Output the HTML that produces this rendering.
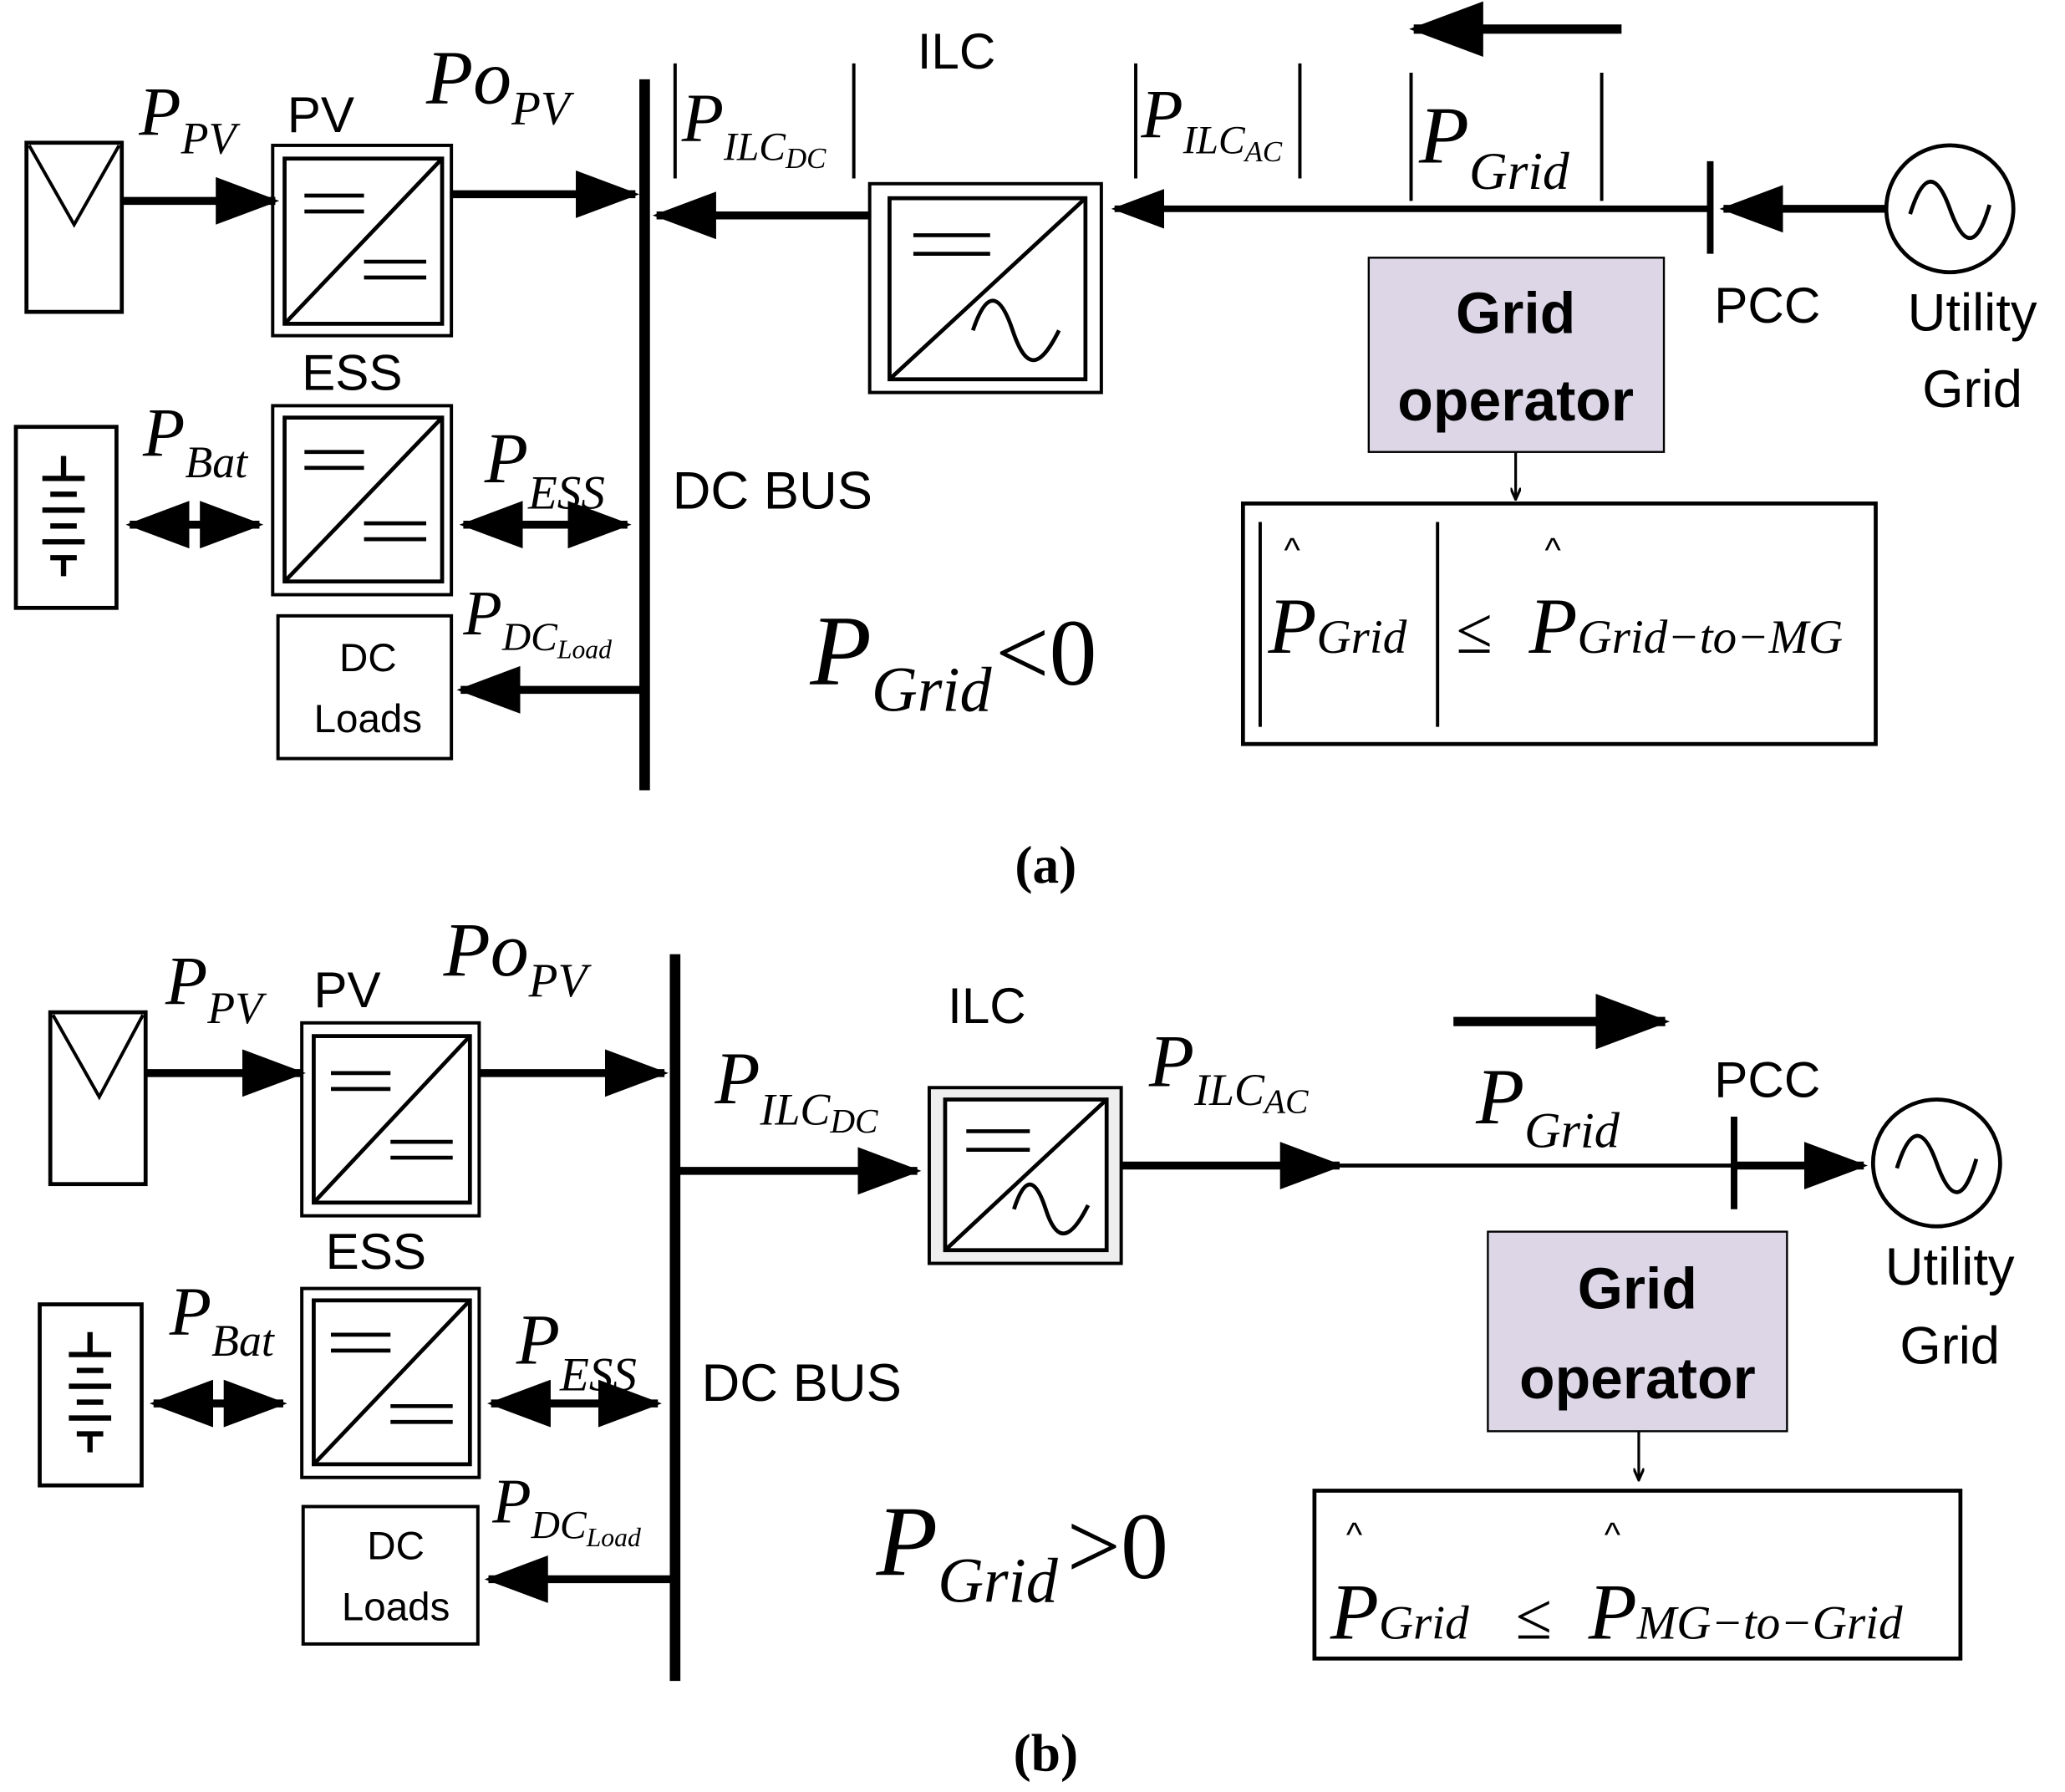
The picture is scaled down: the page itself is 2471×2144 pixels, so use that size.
<!DOCTYPE html>
<html><head><meta charset="utf-8"><style>html,body{margin:0;padding:0;background:#fff}svg{display:block}
.s{font-family:"Liberation Sans",sans-serif}.m{font-family:"Liberation Serif",serif;font-style:italic}</style></head>
<body>
<svg width="2471" height="2144" viewBox="0 0 1560 1356" preserveAspectRatio="none" xmlns="http://www.w3.org/2000/svg">
<defs>
<marker id="ah" markerWidth="8" markerHeight="6" refX="7.5" refY="3" orient="auto" markerUnits="strokeWidth"><path d="M0,0 L8,3 L0,6 Z" fill="#000"/></marker>
<marker id="as" markerWidth="8" markerHeight="6" refX="0.5" refY="3" orient="auto" markerUnits="strokeWidth"><path d="M8,0 L0,3 L8,6 Z" fill="#000"/></marker>
<marker id="sm" markerWidth="10" markerHeight="8" refX="9" refY="4" orient="auto" markerUnits="userSpaceOnUse"><path d="M0,0 L9,4 L0,8" fill="none" stroke="#000" stroke-width="2"/></marker>
</defs>
<g stroke="#000" fill="none">
<!-- ===== (a) ===== -->
<rect x="20" y="108" width="72" height="128" stroke-width="3"/>
<path d="M22,110 L56,170 L90,110" stroke-width="2.5"/>
<line x1="92" y1="152" x2="208" y2="152" stroke-width="6" marker-end="url(#ah)"/>
<rect x="206" y="110" width="135" height="144" stroke-width="2.5"/><rect x="215" y="120" width="119" height="125" stroke-width="3"/>
<path d="M215,245 L334,120 M230,148H275 M230,160H275 M275,198H322 M275,210H322" stroke-width="3"/>
<line x1="341" y1="147" x2="480" y2="147" stroke-width="6" marker-end="url(#ah)"/>
<line x1="487" y1="60" x2="487" y2="598" stroke-width="8"/>
<rect x="206" y="307" width="135" height="143" stroke-width="2.5"/><rect x="215" y="316" width="119" height="124" stroke-width="3"/>
<path d="M215,440 L334,316 M230,342H275 M230,354H275 M275,396H322 M275,408H322" stroke-width="3"/>
<rect x="12" y="323" width="76" height="137" stroke-width="3"/>
<path d="M48,345V362 M32,362H64 M38,374H58 M32,386H64 M38,398H58 M32,410H64 M38,422H58 M48,422V436" stroke-width="4"/>
<line x1="98" y1="397" x2="196" y2="397" stroke-width="6" marker-end="url(#ah)" marker-start="url(#as)"/>
<line x1="350" y1="397" x2="474" y2="397" stroke-width="6" marker-end="url(#ah)" marker-start="url(#as)"/>
<rect x="210" y="466" width="131" height="108" stroke-width="2.5"/>
<line x1="487" y1="522" x2="348" y2="522" stroke-width="6" marker-end="url(#ah)"/>
<line x1="657" y1="163" x2="496" y2="163" stroke-width="6" marker-end="url(#ah)"/>
<rect x="657" y="139" width="175" height="158" stroke-width="2.5"/><rect x="672" y="150" width="148" height="137" stroke-width="3"/>
<path d="M672,287 L820,150 M690,178H748 M690,192H748 M735,250 C745,220 755,220 765,250 S785,280 800,250" stroke-width="3"/>
<path d="M510,48V135 M645,48V135 M858,48V135 M982,48V135 M1066,55V152 M1210,55V152" stroke-width="2.5"/>
<line x1="1292" y1="158" x2="842" y2="158" stroke-width="5" marker-end="url(#ah)"/>
<line x1="1225" y1="22" x2="1068" y2="22" stroke-width="7" marker-end="url(#ah)"/>
<line x1="1292" y1="122" x2="1292" y2="192" stroke-width="5"/>
<line x1="1425" y1="158" x2="1302" y2="158" stroke-width="6" marker-end="url(#ah)"/>
<circle cx="1473" cy="158" r="48" stroke-width="3"/>
<path d="M1443,162 C1453,130 1463,130 1473,158 S1493,190 1503,155" stroke-width="3"/>
<rect x="1034" y="195" width="223" height="147" fill="#dcd6e6" stroke-width="1.5"/>
<line x1="1145" y1="342" x2="1145" y2="378" stroke-width="2" marker-end="url(#sm)"/>
<rect x="939" y="381" width="478" height="182" stroke-width="3"/>
<path d="M952,395V550 M1086,395V550" stroke-width="2.5"/>
<!-- ===== (b) ===== -->
<rect x="38" y="766" width="72" height="130" stroke-width="3"/>
<path d="M40,768 L75,830 L108,768" stroke-width="2.5"/>
<line x1="110" y1="812" x2="228" y2="812" stroke-width="6" marker-end="url(#ah)"/>
<rect x="228" y="774" width="134" height="146" stroke-width="2.5"/><rect x="237" y="784" width="118" height="126" stroke-width="3"/>
<path d="M237,910 L355,784 M250,812H295 M250,824H295 M295,864H342 M295,876H342" stroke-width="3"/>
<line x1="362" y1="812" x2="502" y2="812" stroke-width="6" marker-end="url(#ah)"/>
<line x1="510" y1="722" x2="510" y2="1272" stroke-width="8"/>
<rect x="228" y="975" width="134" height="143" stroke-width="2.5"/><rect x="237" y="984" width="118" height="124" stroke-width="3"/>
<path d="M237,1108 L355,984 M250,1010H295 M250,1022H295 M295,1064H342 M295,1076H342" stroke-width="3"/>
<rect x="30" y="987" width="77" height="137" stroke-width="3"/>
<path d="M68,1008V1025 M52,1025H84 M58,1037H78 M52,1049H84 M58,1061H78 M52,1073H84 M58,1085H78 M68,1085V1099" stroke-width="4"/>
<line x1="116" y1="1062" x2="214" y2="1062" stroke-width="6" marker-end="url(#ah)" marker-start="url(#as)"/>
<line x1="371" y1="1062" x2="497" y2="1062" stroke-width="6" marker-end="url(#ah)" marker-start="url(#as)"/>
<rect x="229" y="1140" width="132" height="104" stroke-width="2.5"/>
<line x1="510" y1="1195" x2="369" y2="1195" stroke-width="6" marker-end="url(#ah)"/>
<line x1="510" y1="886" x2="693" y2="886" stroke-width="6" marker-end="url(#ah)"/>
<rect x="702" y="823" width="145" height="133" stroke-width="2.5" fill="#eee"/><rect x="714" y="832" width="122" height="114" stroke-width="3" fill="#fff"/>
<path d="M714,946 L836,832 M730,856H778 M730,870H778 M766,915 C774,890 782,890 790,915 S808,940 822,912" stroke-width="3"/>
<line x1="847" y1="882" x2="1012" y2="882" stroke-width="6" marker-end="url(#ah)"/>
<line x1="1012" y1="882" x2="1310" y2="882" stroke-width="3"/>
<line x1="1310" y1="882" x2="1408" y2="882" stroke-width="6" marker-end="url(#ah)"/>
<line x1="1098" y1="773" x2="1258" y2="773" stroke-width="7" marker-end="url(#ah)"/>
<line x1="1310" y1="845" x2="1310" y2="915" stroke-width="5"/>
<circle cx="1463" cy="880" r="48" stroke-width="3"/>
<path d="M1433,884 C1443,852 1453,852 1463,880 S1483,912 1493,877" stroke-width="3"/>
<rect x="1124" y="932" width="226" height="151" fill="#dcd6e6" stroke-width="1.5"/>
<line x1="1238" y1="1083" x2="1238" y2="1120" stroke-width="2" marker-end="url(#sm)"/>
<rect x="993" y="1128" width="488" height="127" stroke-width="3"/>
</g>
<g fill="#000">
<!-- (a) text -->
<text class="m" x="105" y="102" font-size="52">P<tspan font-size="34" dy="14">PV</tspan></text>
<text class="s" x="217" y="100" font-size="38">PV</text>
<text class="m" x="322" y="78" font-size="58">Po<tspan font-size="36" dy="16">PV</tspan></text>
<text class="s" x="228" y="295" font-size="38">ESS</text>
<text class="m" x="108" y="345" font-size="52">P<tspan font-size="34" dy="16">Bat</tspan></text>
<text class="m" x="366" y="365" font-size="54">P<tspan font-size="36" dy="20">ESS</tspan></text>
<text class="m" x="350" y="480" font-size="48">P<tspan font-size="30" dy="12">DC</tspan><tspan font-size="20" dy="6">Load</tspan></text>
<text class="s" x="278" y="508" font-size="30" text-anchor="middle">DC</text>
<text class="s" x="278" y="554" font-size="30" text-anchor="middle">Loads</text>
<text class="s" x="508" y="385" font-size="40">DC BUS</text>
<text class="s" x="693" y="52" font-size="38">ILC</text>
<text class="m" x="515" y="107" font-size="52">P<tspan font-size="30" dy="14">ILC</tspan><tspan font-size="22" dy="6">DC</tspan></text>
<text class="m" x="862" y="104" font-size="52">P<tspan font-size="30" dy="12">ILC</tspan><tspan font-size="22" dy="6">AC</tspan></text>
<text class="m" x="1072" y="123" font-size="62">P<tspan font-size="40" dy="20">Grid</tspan></text>
<text class="s" x="1295" y="244" font-size="38">PCC</text>
<text class="s" x="1490" y="250" font-size="40" text-anchor="middle">Utility</text>
<text class="s" x="1490" y="308" font-size="40" text-anchor="middle">Grid</text>
<text class="s" x="1145" y="252" font-size="44" font-weight="bold" text-anchor="middle">Grid</text>
<text class="s" x="1145" y="318" font-size="44" font-weight="bold" text-anchor="middle">operator</text>
<text class="m" x="958" y="494" font-size="60">P<tspan font-size="36">Grid</tspan></text>
<text x="970" y="425" font-size="26" font-family="Liberation Sans,sans-serif">^</text>
<text x="1100" y="494" font-size="50" font-family="Liberation Serif,serif">≤</text>
<text class="m" x="1155" y="494" font-size="60">P<tspan font-size="36">Grid−to−MG</tspan></text>
<text x="1167" y="425" font-size="26" font-family="Liberation Sans,sans-serif">^</text>
<text class="m" x="612" y="518" font-size="76">P<tspan font-size="48" dy="20">Grid</tspan></text>
<text x="752" y="518" font-size="72" font-family="Liberation Serif,serif">&lt;0</text>
<text x="790" y="668" font-size="40" font-weight="bold" font-family="Liberation Serif,serif" text-anchor="middle">(a)</text>
<!-- (b) text -->
<text class="m" x="125" y="760" font-size="52">P<tspan font-size="34" dy="14">PV</tspan></text>
<text class="s" x="237" y="762" font-size="38">PV</text>
<text class="m" x="335" y="738" font-size="58">Po<tspan font-size="36" dy="16">PV</tspan></text>
<text class="s" x="246" y="960" font-size="38">ESS</text>
<text class="m" x="128" y="1010" font-size="52">P<tspan font-size="34" dy="16">Bat</tspan></text>
<text class="m" x="390" y="1032" font-size="54">P<tspan font-size="36" dy="20">ESS</tspan></text>
<text class="m" x="372" y="1152" font-size="48">P<tspan font-size="30" dy="12">DC</tspan><tspan font-size="20" dy="6">Load</tspan></text>
<text class="s" x="299" y="1180" font-size="30" text-anchor="middle">DC</text>
<text class="s" x="299" y="1226" font-size="30" text-anchor="middle">Loads</text>
<text class="s" x="530" y="1060" font-size="40">DC BUS</text>
<text class="s" x="716" y="774" font-size="38">ILC</text>
<text class="m" x="540" y="835" font-size="56">P<tspan font-size="34" dy="16">ILC</tspan><tspan font-size="26" dy="6">DC</tspan></text>
<text class="m" x="868" y="822" font-size="56">P<tspan font-size="34" dy="14">ILC</tspan><tspan font-size="26" dy="6">AC</tspan></text>
<text class="m" x="1115" y="850" font-size="60">P<tspan font-size="38" dy="18">Grid</tspan></text>
<text class="s" x="1295" y="830" font-size="38">PCC</text>
<text class="s" x="1473" y="972" font-size="40" text-anchor="middle">Utility</text>
<text class="s" x="1473" y="1032" font-size="40" text-anchor="middle">Grid</text>
<text class="s" x="1237" y="990" font-size="44" font-weight="bold" text-anchor="middle">Grid</text>
<text class="s" x="1237" y="1058" font-size="44" font-weight="bold" text-anchor="middle">operator</text>
<text class="m" x="1005" y="1240" font-size="60">P<tspan font-size="36">Grid</tspan></text>
<text x="1017" y="1170" font-size="26" font-family="Liberation Sans,sans-serif">^</text>
<text x="1145" y="1240" font-size="50" font-family="Liberation Serif,serif">≤</text>
<text class="m" x="1200" y="1240" font-size="60">P<tspan font-size="36">MG−to−Grid</tspan></text>
<text x="1212" y="1170" font-size="26" font-family="Liberation Sans,sans-serif">^</text>
<text class="m" x="662" y="1192" font-size="76">P<tspan font-size="48" dy="20">Grid</tspan></text>
<text x="806" y="1194" font-size="72" font-family="Liberation Serif,serif">&gt;0</text>
<text x="790" y="1340" font-size="40" font-weight="bold" font-family="Liberation Serif,serif" text-anchor="middle">(b)</text>
</g>
</svg>
</body></html>
